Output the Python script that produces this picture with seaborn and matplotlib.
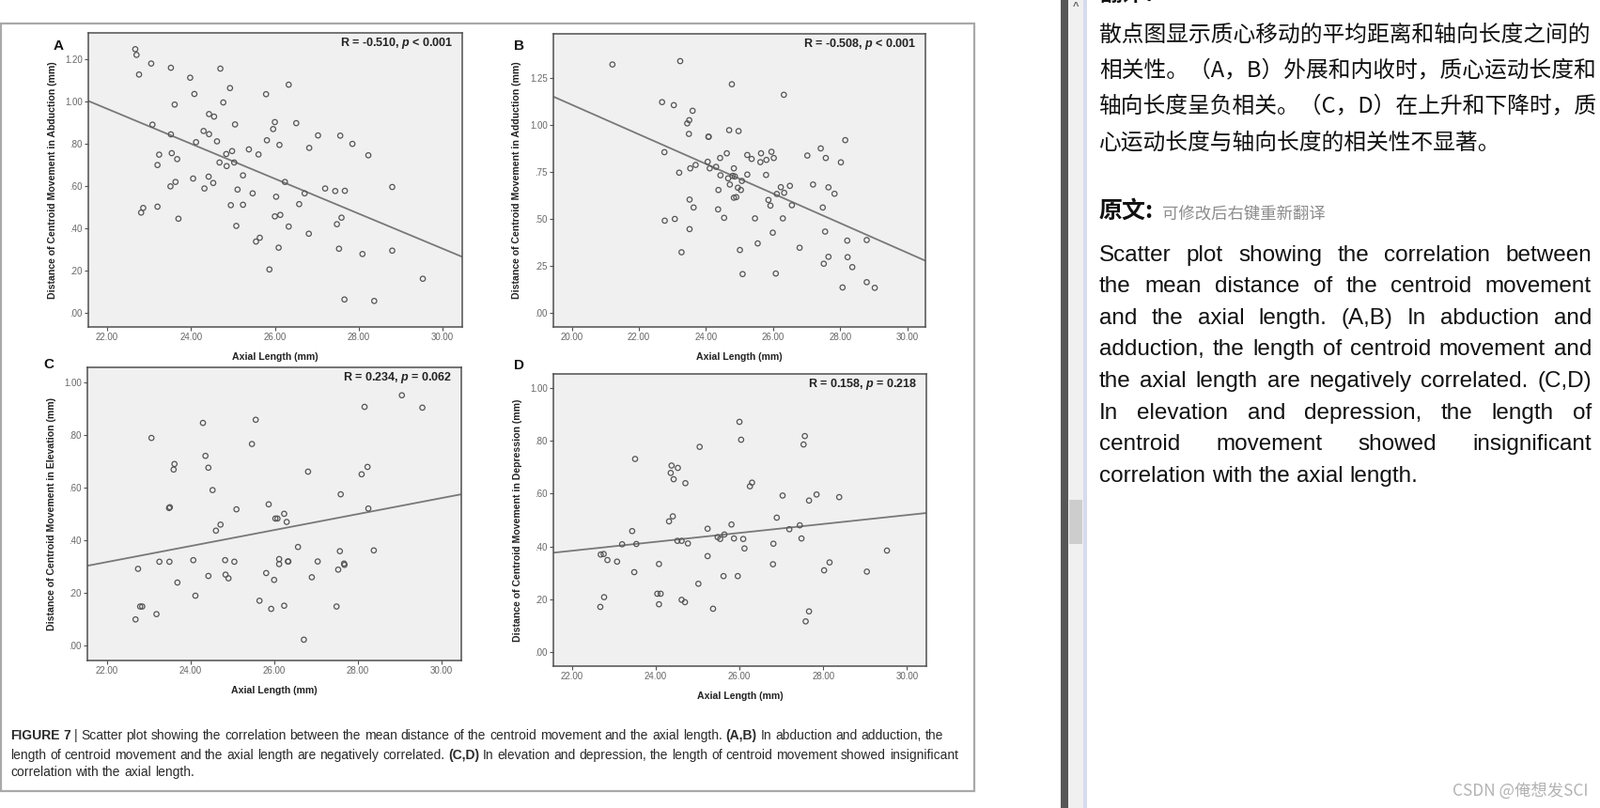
import matplotlib
matplotlib.use("Agg")
import numpy as np
import matplotlib.pyplot as plt
import seaborn as sns
from matplotlib.patches import Rectangle

W, H = 1703, 860

# ---- data ----
abd_x = [22.67, 22.70, 22.76, 23.05, 23.52, 24.70, 23.98, 24.93, 24.08, 26.33,
         25.79, 24.77, 23.61, 24.43, 24.55, 25.05, 26.00, 26.51, 25.96, 23.08,
         23.52, 24.30, 24.43, 27.03, 27.56, 25.81, 24.12, 24.62, 26.11, 27.85,
         26.82, 28.23, 25.38, 23.24, 23.54, 24.84, 24.98, 25.61, 23.67, 23.20,
         24.68, 24.85, 25.03, 25.24, 24.42, 24.05, 24.53, 23.63, 23.51, 24.32,
         25.11, 26.24, 25.47, 26.71, 27.20, 27.44, 27.67, 28.80, 26.03, 24.95,
         25.24, 26.58, 23.20, 22.86, 22.81, 23.70, 26.00, 26.13, 27.59, 27.48,
         25.08, 26.33, 26.81, 25.64, 25.55, 26.09, 27.53, 28.09, 28.80, 25.87,
         29.53, 27.66, 28.37]
abd_y = [1.249, 1.222, 1.129, 1.181, 1.161, 1.157, 1.114, 1.065, 1.037, 1.081,
         1.036, 0.997, 0.987, 0.942, 0.930, 0.893, 0.904, 0.899, 0.871, 0.892,
         0.846, 0.862, 0.847, 0.841, 0.840, 0.818, 0.809, 0.813, 0.796, 0.801,
         0.782, 0.747, 0.775, 0.750, 0.757, 0.753, 0.767, 0.751, 0.729, 0.701,
         0.713, 0.696, 0.713, 0.652, 0.646, 0.637, 0.616, 0.621, 0.600, 0.590,
         0.585, 0.621, 0.567, 0.567, 0.590, 0.578, 0.579, 0.597, 0.551, 0.511,
         0.513, 0.516, 0.504, 0.498, 0.476, 0.447, 0.458, 0.465, 0.452, 0.421,
         0.413, 0.410, 0.376, 0.357, 0.339, 0.310, 0.305, 0.280, 0.296, 0.207,
         0.163, 0.065, 0.058]

add_x = [21.21, 23.23, 24.77, 26.32, 22.69, 23.04, 23.60, 23.50, 23.44, 24.69,
         24.97, 23.49, 24.07, 24.08, 28.15, 22.76, 25.95, 24.62, 25.64, 27.42,
         25.23, 27.02, 24.42, 26.02, 27.57, 25.36, 25.80, 25.62, 24.05, 28.02,
         23.69, 24.30, 23.53, 24.11, 24.83, 23.20, 24.43, 25.23, 25.79, 24.79,
         24.86, 24.66, 25.07, 24.71, 27.19, 26.23, 26.50, 27.65, 24.95, 25.04,
         24.37, 26.33, 26.11, 27.83, 24.83, 24.90, 25.86, 23.51, 25.92, 26.56,
         23.63, 27.48, 24.36, 24.54, 25.46, 26.29, 23.07, 22.77, 23.51, 27.55,
         25.99, 25.54, 28.21, 28.79, 26.79, 25.01, 23.27, 27.65, 28.22, 27.51,
         28.36, 25.09, 26.08, 28.79, 28.07, 29.03]
add_y = [1.320, 1.338, 1.215, 1.159, 1.120, 1.104, 1.074, 1.024, 1.007, 0.971,
         0.966, 0.951, 0.936, 0.936, 0.918, 0.854, 0.856, 0.848, 0.848, 0.874,
         0.839, 0.836, 0.823, 0.823, 0.823, 0.818, 0.813, 0.801, 0.803, 0.800,
         0.786, 0.776, 0.768, 0.768, 0.768, 0.745, 0.731, 0.735, 0.733, 0.728,
         0.725, 0.715, 0.701, 0.682, 0.682, 0.668, 0.675, 0.667, 0.665, 0.653,
         0.653, 0.638, 0.632, 0.633, 0.612, 0.615, 0.600, 0.602, 0.570, 0.572,
         0.560, 0.560, 0.550, 0.505, 0.502, 0.502, 0.499, 0.490, 0.445, 0.432,
         0.426, 0.369, 0.384, 0.387, 0.346, 0.334, 0.322, 0.298, 0.296, 0.261,
         0.243, 0.206, 0.209, 0.163, 0.135, 0.133]

ele_x = [29.05, 29.54, 28.16, 24.30, 25.56, 23.07, 25.47, 24.36, 23.62, 23.60,
         24.43, 28.23, 28.09, 26.81, 24.53, 27.59, 23.49, 23.51, 25.87, 25.10,
         28.25, 26.24, 26.03, 26.08, 26.30, 24.72, 24.61, 26.57, 27.57, 28.38,
         26.12, 26.12, 26.33, 26.34, 27.67, 27.68, 27.04, 23.26, 23.50, 24.07,
         24.83, 25.05, 22.75, 27.53, 25.81, 24.84, 24.91, 24.43, 26.90, 26.00,
         23.69, 24.12, 25.65, 25.93, 26.24, 27.49, 22.80, 22.85, 23.19, 22.69,
         26.71]
ele_y = [0.951, 0.904, 0.907, 0.846, 0.858, 0.789, 0.766, 0.721, 0.690, 0.669,
         0.676, 0.679, 0.651, 0.661, 0.591, 0.575, 0.523, 0.526, 0.537, 0.518,
         0.521, 0.501, 0.483, 0.483, 0.470, 0.460, 0.437, 0.375, 0.359, 0.362,
         0.329, 0.310, 0.320, 0.320, 0.312, 0.307, 0.320, 0.319, 0.319, 0.325,
         0.325, 0.319, 0.292, 0.289, 0.276, 0.270, 0.256, 0.265, 0.260, 0.250,
         0.240, 0.190, 0.171, 0.140, 0.152, 0.149, 0.149, 0.149, 0.120, 0.100,
         0.023]

dep_x = [26.00, 26.04, 27.56, 27.53, 25.05, 23.51, 24.38, 24.53, 24.36, 24.43,
         24.71, 26.30, 26.25, 27.03, 27.84, 28.38, 27.66, 24.41, 24.32, 26.89,
         25.81, 27.44, 25.24, 27.19, 23.44, 25.48, 25.64, 25.54, 25.87, 26.09,
         27.48, 24.52, 24.62, 23.20, 23.54, 24.77, 26.81, 26.12, 22.69, 22.76,
         29.52, 22.85, 23.08, 25.24, 24.08, 26.80, 28.15, 23.49, 28.02, 29.04,
         25.62, 25.96, 25.02, 24.04, 24.12, 22.77, 24.62, 24.70, 24.08, 22.68,
         25.37, 27.66, 27.58]
dep_y = [0.873, 0.805, 0.819, 0.787, 0.778, 0.732, 0.707, 0.698, 0.679, 0.655,
         0.640, 0.642, 0.628, 0.593, 0.597, 0.587, 0.574, 0.514, 0.495, 0.509,
         0.483, 0.480, 0.467, 0.465, 0.458, 0.435, 0.445, 0.428, 0.430, 0.428,
         0.430, 0.421, 0.421, 0.408, 0.409, 0.411, 0.410, 0.392, 0.369, 0.371,
         0.384, 0.348, 0.342, 0.363, 0.333, 0.332, 0.339, 0.302, 0.309, 0.304,
         0.287, 0.287, 0.258, 0.220, 0.220, 0.207, 0.197, 0.188, 0.180, 0.170,
         0.163, 0.153, 0.115]

panel_letters = ["A", "B", "C", "D"]
y_titles = ["Distance of Centroid Movement in Abduction (mm)",
            "Distance of Centroid Movement in Adduction (mm)",
            "Distance of Centroid Movement in Elevation (mm)",
            "Distance of Centroid Movement in Depression (mm)"]
r_labels = ["R = -0.510, $p$ < 0.001", "R = -0.508, $p$ < 0.001",
            "R = 0.234, $p$ = 0.062", "R = 0.158, $p$ = 0.218"]
x_title = "Axial Length (mm)"
x_ticks = [[22, 24, 26, 28, 30], [20, 22, 24, 26, 28, 30],
           [22, 24, 26, 28, 30], [22, 24, 26, 28, 30]]
y_ticks = [[0, .2, .4, .6, .8, 1.0, 1.2], [0, .25, .5, .75, 1.0, 1.25],
           [0, .2, .4, .6, .8, 1.0], [0, .2, .4, .6, .8, 1.0]]

caption_lines = [
    [("FIGURE 7", "bold"), ("|", "normal"),
     ("Scatter plot showing the correlation between the mean distance of the "
      "centroid movement and the axial length.", "normal"),
     ("(A,B)", "bold"), ("In abduction and adduction, the", "normal")],
    [("length of centroid movement and the axial length are negatively correlated.", "normal"),
     ("(C,D)", "bold"),
     ("In elevation and depression, the length of centroid movement showed insignificant", "normal")],
    [("correlation with the axial length.", "normal")],
]

zh_header = "翻译："
zh_lines = ["散点图显示质心移动的平均距离和轴向长度之间的",
            "相关性。（A，B）外展和内收时，质心运动长度和",
            "轴向长度呈负相关。（C，D）在上升和下降时，质",
            "心运动长度与轴向长度的相关性不显著。"]
orig_header = "原文:"
orig_hint = "可修改后右键重新翻译"
en_lines = ["Scatter plot showing the correlation between",
            "the mean distance of the centroid movement",
            "and the axial length. (A,B) In abduction and",
            "adduction, the length of centroid movement and",
            "the axial length are negatively correlated. (C,D)",
            "In elevation and depression, the length of",
            "centroid movement showed insignificant",
            "correlation with the axial length."]
watermark = "CSDN @俺想发SCI"

# ---- style ----
sns.set_theme(style="ticks")
plt.rcParams['font.family'] = ['Liberation Sans', 'DejaVu Sans']
plt.rcParams['mathtext.fontset'] = 'custom'
plt.rcParams['mathtext.it'] = 'Liberation Sans:italic:bold'
plt.rcParams['mathtext.rm'] = 'Liberation Sans:bold'
CJK = ['Noto Sans CJK SC', 'DejaVu Sans']
NARROW = ['Liberation Sans Narrow', 'Liberation Sans']

fig = plt.figure(figsize=(W / 100, H / 100), dpi=100)
fig.patch.set_facecolor("white")
renderer = fig.canvas.get_renderer()


def fx(x):
    return x / W


def fy(y):
    return 1 - y / H


def add_rect(x0, y0, x1, y1, **kw):
    fig.add_artist(Rectangle((fx(x0), fy(y1)), (x1 - x0) / W, (y1 - y0) / H,
                             transform=fig.transFigure, **kw))


def width_of(t):
    return t.get_window_extent(renderer=renderer).width


def place_words(runs, x0, y, x1=None, **kw):
    """lay words out one by one; justify to x1 when given"""
    words = []
    for chunk, wt in runs:
        words += [(w, wt) for w in chunk.split()]
    arts = [fig.text(0, fy(y), w, va="center", ha="left", fontweight=wt, **kw)
            for w, wt in words]
    widths = [width_of(a) for a in arts]
    p1 = fig.text(0, 0, "x x", **kw)
    p2 = fig.text(0, 0, "xx", **kw)
    space = width_of(p1) - width_of(p2)
    p1.remove()
    p2.remove()
    gap = space
    if x1 is not None and len(arts) > 1:
        gap = (x1 - x0 - sum(widths)) / (len(arts) - 1)
    x = x0
    for a, w in zip(arts, widths):
        a.set_x(fx(x))
        x += w + gap


# ---- the four scatter panels ----
panel_data = [(abd_x, abd_y), (add_x, add_y), (ele_x, ele_y), (dep_x, dep_y)]
boxes = [(94, 35, 492, 348), (589, 36, 985, 348),
         (93, 391, 491, 703), (589, 398, 986, 709)]
xlims = [(21.55, 30.47), (19.45, 30.54), (21.54, 30.47), (21.56, 30.46)]
ylims = [(-0.065, 1.326), (-0.075, 1.483), (-0.056, 1.057), (-0.055, 1.055)]
letter_pos = [(62, 49), (552, 49), (52, 388), (552, 389)]
ylab_off = [33, 34, 33, 33]

for i, (xs, ys) in enumerate(panel_data):
    x0, y0, x1, y1 = boxes[i]
    w_px, h_px = x1 - x0, y1 - y0
    ax = fig.add_axes([fx(x0), fy(y1), w_px / W, h_px / H])
    ax.set_facecolor("#f0f0f0")
    ax.set_xlim(*xlims[i])
    ax.set_ylim(*ylims[i])
    sns.regplot(x=np.array(xs), y=np.array(ys), ax=ax, ci=None, truncate=False,
                marker="o",
                scatter_kws=dict(s=15, facecolors="none", edgecolors="#555555",
                                 linewidths=0.9, alpha=1, zorder=3),
                line_kws=dict(color="#787878", lw=1.3, zorder=2))
    ax.set_xlim(*xlims[i])
    ax.set_ylim(*ylims[i])
    ax.set_xticks(x_ticks[i])
    ax.set_xticklabels([f"{v:.2f}" for v in x_ticks[i]], family=NARROW)
    ax.set_yticks(y_ticks[i])
    ax.set_yticklabels([f"{v:.2f}".lstrip("0") if v < 1 else f"{v:.2f}"
                        for v in y_ticks[i]], family=NARROW)
    for s in ax.spines.values():
        s.set_visible(True)
        s.set_color("#4f4f4f")
        s.set_linewidth(1.1)
    ax.tick_params(direction="out", length=3, width=0.8, color="#4f4f4f",
                   labelsize=7, labelcolor="#666666", pad=1.5,
                   top=False, right=False)
    ax.set_xlabel(x_title, fontsize=7.6, fontweight="bold", color="#222222")
    ax.xaxis.set_label_coords(0.5, -27 / h_px)
    ax.set_ylabel(y_titles[i], fontsize=7.6, fontweight="bold", color="#222222")
    ax.yaxis.set_label_coords(-ylab_off[i] / w_px, 0.5)
    ax.annotate(r_labels[i], xy=(1, 1), xycoords="axes fraction",
                xytext=(-10, -11), textcoords="offset pixels",
                ha="right", va="center", fontsize=9, fontweight="bold",
                color="#222222")
    lx, ly = letter_pos[i]
    fig.text(fx(lx), fy(ly), panel_letters[i], ha="center", va="center",
             fontsize=11, fontweight="bold", color="#111111")

# figure frame and caption
add_rect(0.8, 25, 1037, 842, fill=False, edgecolor="#a9a9a9", lw=1.6)
for runs, yy in zip(caption_lines, [783, 804, 822]):
    place_words(runs, 11, yy, family=NARROW, fontsize=10.0, color="#2a2a2a")

# ---- scrollbar strip ----
add_rect(1129, 0, 1137, H, color="#575757", lw=0)
add_rect(1137, 0, 1153, H, color="#f0f0f0", lw=0)
add_rect(1138, 532, 1152, 579, color="#cdcdcd", lw=0)
add_rect(1153, 0, 1157, H, color="#d6dbee", lw=0)
fig.text(fx(1145), fy(7), "^", ha="center", va="center", fontsize=8,
         color="#606060", fontweight="bold")

# ---- translation panel ----
fig.text(fx(1170), fy(-6), zh_header, family=CJK, fontsize=17,
         fontweight="bold", ha="left", va="center", color="#111111")
for line, yy in zip(zh_lines, [37, 76, 114, 152]):
    fig.text(fx(1170), fy(yy), line, family=CJK, fontsize=17.1,
             ha="left", va="center", color="#111111")
fig.text(fx(1170), fy(225), orig_header, family=CJK, fontsize=18,
         fontweight="bold", ha="left", va="center", color="#111111")
fig.text(fx(1237), fy(227), orig_hint, family=CJK, fontsize=12.5,
         ha="left", va="center", color="#8c8c8c")
en_y = [272, 305, 339, 372, 406, 440, 473, 507]
for j, (line, yy) in enumerate(zip(en_lines, en_y)):
    last = j == len(en_lines) - 1
    place_words([(line, "normal")], 1170, yy, None if last else 1694,
                fontsize=17.5, color="#111111")
fig.text(fx(1690), fy(842), watermark, family=CJK, fontsize=12.5,
         ha="right", va="center", color="#b3b3b3")

fig.savefig("out.png", dpi=100, facecolor="white")
